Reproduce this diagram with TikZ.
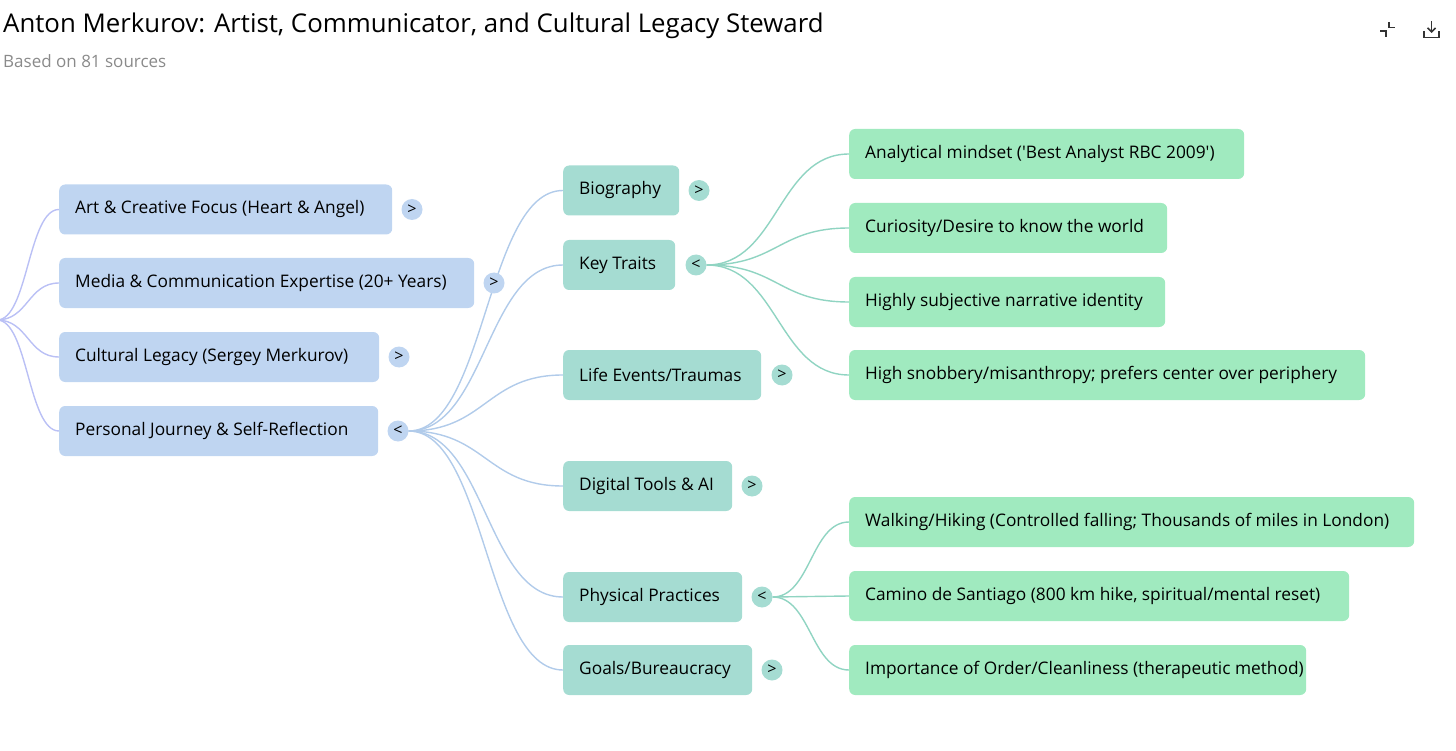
\documentclass[tikz,border=0pt]{standalone}
\usepackage{fontspec}
\setmainfont{Open Sans}
\usetikzlibrary{arrows.meta,backgrounds}
\definecolor{blueN}{HTML}{BFD5F1}
\definecolor{tealN}{HTML}{A5DCD2}
\definecolor{greenN}{HTML}{A0EABF}
\definecolor{rootL}{HTML}{BAC0F5}
\definecolor{blueL}{HTML}{B1CBEA}
\definecolor{tealL}{HTML}{90D4C2}
\definecolor{subG}{HTML}{8A8A8A}
\definecolor{iconG}{HTML}{333333}
\tikzset{
  box/.style={anchor=west, rounded corners=6pt, minimum height=50pt, inner xsep=16pt, inner ysep=0pt,
    font=\fontsize{17.3}{20}\selectfont, text=black},
  l1/.style={box, fill=blueN},
  l2/.style={box, fill=tealN},
  l3/.style={box, fill=greenN},
  tog/.style={circle, minimum size=21pt, inner sep=0pt, font=\fontsize{16}{16}\selectfont},
  tg1/.style={tog, fill=blueN},
  tg2/.style={tog, fill=tealN},
  lk/.style={line width=1.4pt},
  icon/.style={draw=iconG, line width=1.6pt}
}
\newcommand\bx[2]{\makebox[#1pt][l]{#2}}
\begin{document}
\begin{tikzpicture}[x=1pt,y=-1pt]
\useasboundingbox (0,0) rectangle (1456,751);
% title
\node[anchor=base west, inner sep=0pt, font=\fontsize{25.8}{28}\selectfont] (title) at (3,33) {Anton Merkurov: Artist, Communicator, and Cultural Legacy Steward};
\node[anchor=base west, inner sep=0pt, font=\fontsize{17}{18}\selectfont, text=subG] (sub) at (3,68) {Based on 81 sources};
% icons
\coordinate (ic1) at (1389,22);
\draw[icon] (ic1) -- ++(0,5.5) -- ++(6,0);
\coordinate (ic2) at (1380,31);
\draw[icon] (ic2) -- ++(6,0) -- ++(0,6);
\coordinate (dl) at (1431.5,21);
\draw[icon, -{Straight Barb[length=4pt,width=8pt]}] (dl) -- ++(0,12);
\coordinate (tr) at (1424,31);
\draw[icon] (tr) -- ++(0,6.5) -- ++(15,0) -- ++(0,-6.5);
% level 1
\coordinate (root) at (-3,320);
\node[l1] (art) at (59,209.5) {\bx{301}{Art \& Creative Focus (Heart \& Angel)}};
\node[l1] (med) at (59,283) {\bx{383}{Media \& Communication Expertise (20+ Years)}};
\node[l1] (cul) at (59,357) {\bx{288}{Cultural Legacy (Sergey Merkurov)}};
\node[l1] (per) at (59,431) {\bx{287}{Personal Journey \& Self-Reflection}};
\node[tg1] (tart) at (412,209.5) {>};
\node[tg1] (tmed) at (494,283) {>};
\node[tg1] (tcul) at (399,357) {>};
\node[tg1] (tper) at (398,431) {<};
% level 2
\node[l2] (bio) at (563,190.5) {\bx{84}{Biography}};
\node[l2] (key) at (563,265) {\bx{80}{Key Traits}};
\node[l2] (life) at (563,375) {\bx{166}{Life Events/Traumas}};
\node[l2] (dig) at (563,486) {\bx{137}{Digital Tools \& AI}};
\node[l2] (phy) at (563,597) {\bx{147}{Physical Practices}};
\node[l2] (goal) at (563,670) {\bx{157}{Goals/Bureaucracy}};
\node[tg2] (tbio) at (699,190.5) {>};
\node[tg2] (tkey) at (696,265) {<};
\node[tg2] (tlife) at (782,375) {>};
\node[tg2] (tdig) at (752,486) {>};
\node[tg2] (tphy) at (762,597) {<};
\node[tg2] (tgoal) at (772,670) {>};
% level 3
\node[l3] (ana) at (849,154) {\bx{363}{Analytical mindset (\textquotesingle Best Analyst RBC 2009\textquotesingle)}};
\node[l3] (cur) at (849,228) {\bx{286}{Curiosity/Desire to know the world}};
\node[l3] (hsub) at (849,302) {\bx{284}{Highly subjective narrative identity}};
\node[l3] (snob) at (849,375) {\bx{484}{High snobbery/misanthropy; prefers center over periphery}};
\node[l3] (walk) at (849,522) {\bx{533}{Walking/Hiking (Controlled falling; Thousands of miles in London)}};
\node[l3] (cam) at (849,596) {\bx{468}{Camino de Santiago (800 km hike, spiritual/mental reset)}};
\node[l3] (ord) at (849,670) {\bx{425}{Importance of Order/Cleanliness (therapeutic method)}};
% links
\begin{scope}[on background layer]
\foreach \n in {art,med,cul,per}
  \draw[lk, rootL] (root) .. controls +(31,0) and +(-31,0) .. (\n.west);
\foreach \n in {bio,key,life,dig,phy,goal}
  \draw[lk, blueL] (tper.east) .. controls +(77,0) and +(-77,0) .. (\n.west);
\foreach \n in {ana,cur,hsub,snob}
  \draw[lk, tealL] (tkey.east) .. controls +(71,0) and +(-71,0) .. (\n.west);
\foreach \n in {walk,cam,ord}
  \draw[lk, tealL] (tphy.east) .. controls +(38,0) and +(-38,0) .. (\n.west);
\end{scope}
\end{tikzpicture}
\end{document}
